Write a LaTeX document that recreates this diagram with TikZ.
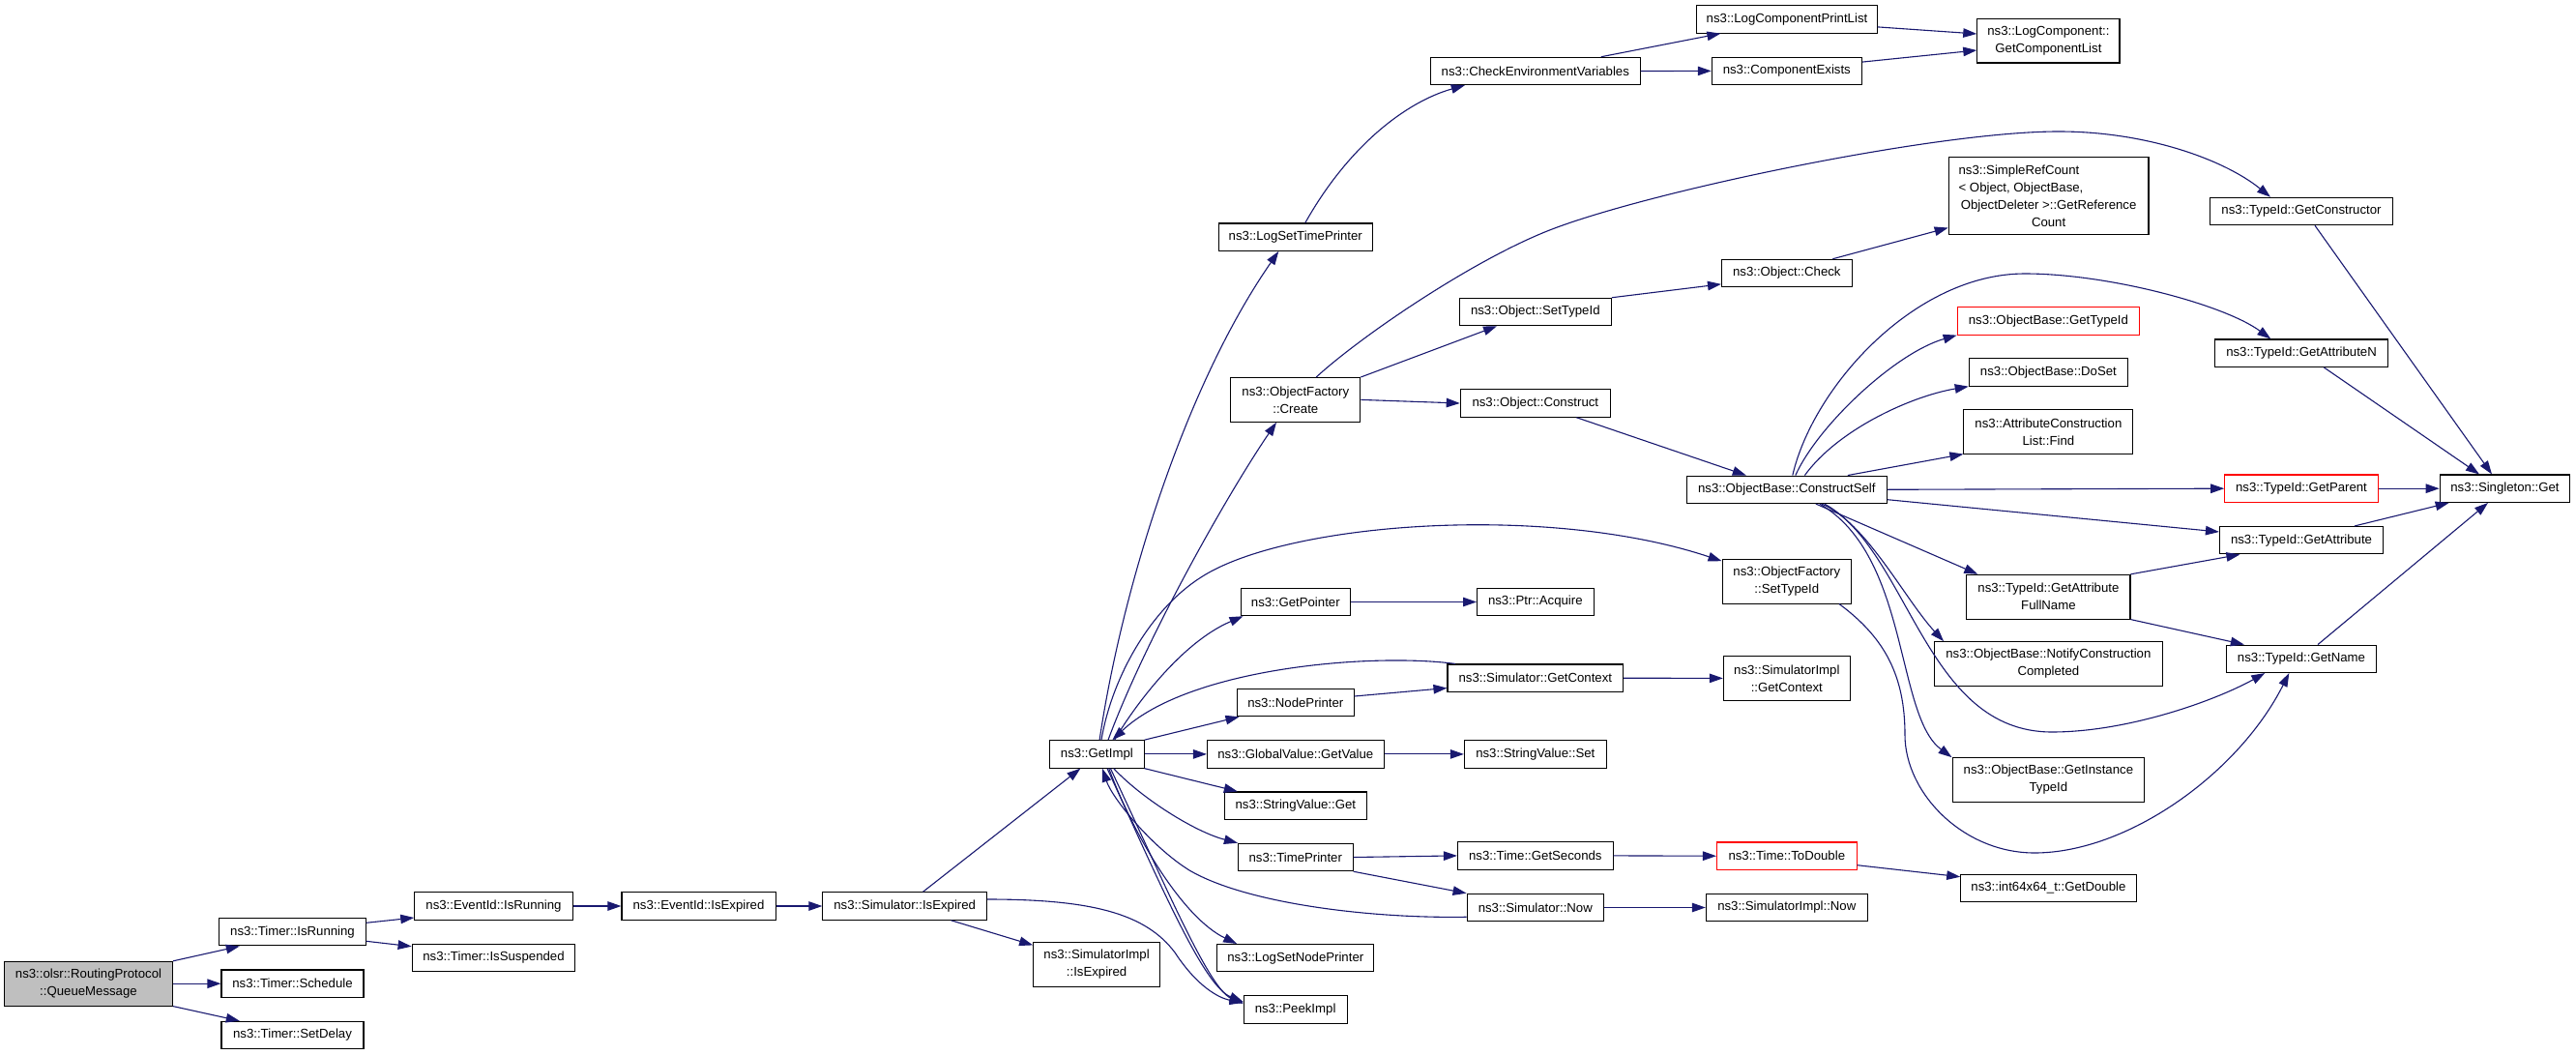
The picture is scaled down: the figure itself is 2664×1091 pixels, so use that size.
\documentclass[tikz,border=0pt]{standalone}
\usepackage{fontspec}
\newfontfamily\dxfont{Liberation Sans}
\usetikzlibrary{arrows.meta,calc}
\definecolor{edgeblue}{RGB}{25,25,112}
\definecolor{rootgray}{RGB}{191,191,191}
\tikzset{
 box/.style={draw=black, line width=1.1pt, fill=white, inner sep=0pt, align=center,
   font={\dxfont\fontsize{13.2pt}{18pt}\selectfont}},
 edge/.style={draw=edgeblue, line width=1.1pt, -{Triangle[length=14pt,width=9.5pt]}},
}
\newcommand\mynode[7][]{\node[box,#1,minimum width=#5pt,minimum height=#6pt] (#2) at (#3,#4) {#7};}
\begin{document}
\begin{tikzpicture}[x=1pt,y=-1pt]
\fill[white] (0,0) rectangle (2664,1091);
\useasboundingbox (0,0) rectangle (2664,1091);
% nodes
\mynode[fill=rootgray]{qm}{91.5}{1017.2}{174}{45.7}{ns3::olsr::RoutingProtocol\\::QueueMessage}
\mynode{tir}{302.5}{963.7}{151.3}{28.4}{ns3::Timer::IsRunning}
\mynode{tsc}{302.5}{1017.2}{147}{28.4}{ns3::Timer::Schedule}
\mynode{tsd}{302.5}{1070.5}{147}{28.4}{ns3::Timer::SetDelay}
\mynode{eir}{510.5}{937}{163.4}{28.4}{ns3::EventId::IsRunning}
\mynode{tis}{510.5}{990.5}{168.7}{28.4}{ns3::Timer::IsSuspended}
\mynode{eie}{722.5}{937}{159.1}{28.4}{ns3::EventId::IsExpired}
\mynode{sie}{935.7}{937}{169.6}{28.4}{ns3::Simulator::IsExpired}
\mynode{gi}{1134.4}{779.9}{97.3}{28.4}{ns3::GetImpl}
\mynode{siie}{1134.1}{997.2}{130.8}{45.7}{ns3::SimulatorImpl\\::IsExpired}
\mynode{pk}{1339.6}{1043.9}{107}{28.4}{ns3::PeekImpl}
\mynode{lsnp}{1339.8}{990.7}{162.2}{28.4}{ns3::LogSetNodePrinter}
\mynode{tp}{1339.8}{886.5}{118.7}{28.4}{ns3::TimePrinter}
\mynode{svg}{1339.8}{833.2}{146.9}{28.4}{ns3::StringValue::Get}
\mynode{gvgv}{1339.8}{779.9}{182.6}{28.4}{ns3::GlobalValue::GetValue}
\mynode{np}{1339.8}{726.5}{120.5}{28.4}{ns3::NodePrinter}
\mynode{gp}{1339.8}{622.5}{113.4}{28.4}{ns3::GetPointer}
\mynode{ofc}{1339.8}{413.4}{133.9}{45.7}{ns3::ObjectFactory\\::Create}
\mynode{lstp}{1339.8}{245.2}{159.3}{28.4}{ns3::LogSetTimePrinter}
\mynode{cev}{1587.8}{73.5}{216.6}{28.4}{ns3::CheckEnvironmentVariables}
\mynode{ost}{1587.8}{322.5}{157.1}{28.4}{ns3::Object::SetTypeId}
\mynode{oc}{1587.8}{417}{155}{28.4}{ns3::Object::Construct}
\mynode{sgc}{1587.8}{701.2}{181.6}{28.4}{ns3::Simulator::GetContext}
\mynode{pa}{1587.8}{622.5}{120.5}{28.4}{ns3::Ptr::Acquire}
\mynode{svs}{1587.8}{779.9}{146.8}{28.4}{ns3::StringValue::Set}
\mynode{tgs}{1587.8}{884.9}{160.7}{28.4}{ns3::Time::GetSeconds}
\mynode{sn}{1587.8}{938.5}{141.4}{28.4}{ns3::Simulator::Now}
\mynode{lcpl}{1848}{19.9}{186.2}{28.4}{ns3::LogComponentPrintList}
\mynode{ce}{1847.8}{73.4}{155}{28.4}{ns3::ComponentExists}
\mynode{och}{1847.8}{282.5}{134.6}{28.4}{ns3::Object::Check}
\mynode{obcs}{1847.8}{506.3}{207.1}{28.4}{ns3::ObjectBase::ConstructSelf}
\mynode{ofst}{1847.8}{601.2}{133.4}{45.7}{ns3::ObjectFactory\\::SetTypeId}
\mynode{sigc}{1847.8}{701.4}{130.9}{45.7}{ns3::SimulatorImpl\\::GetContext}
\mynode[draw=red]{ttd}{1847.8}{885.2}{144.6}{28.4}{ns3::Time::ToDouble}
\mynode{sin}{1847.8}{938.5}{166.9}{28.4}{ns3::SimulatorImpl::Now}
\mynode{lcgc}{2118.4}{42.4}{147.2}{45.3}{ns3::LogComponent::\\GetComponentList}
\mynode{src}{2118.6}{202.7}{206.8}{80}{\makebox[186pt][l]{ns3::SimpleRefCount}\\\makebox[186pt][l]{< Object, ObjectBase,}\\\makebox[186pt][c]{ObjectDeleter >::GetReference}\\\makebox[186pt][c]{Count}}
\mynode[draw=red]{obgt}{2118.4}{331.9}{188.4}{28.4}{ns3::ObjectBase::GetTypeId}
\mynode{obds}{2118.4}{384.9}{164.3}{28.4}{ns3::ObjectBase::DoSet}
\mynode{acl}{2118.4}{446.4}{175}{45.3}{ns3::AttributeConstruction\\List::Find}
\mynode{tgafn}{2118.4}{617.2}{169.1}{45.7}{ns3::TypeId::GetAttribute\\FullName}
\mynode{obncc}{2118.4}{686.4}{235.5}{45.3}{ns3::ObjectBase::NotifyConstruction\\Completed}
\mynode{obgit}{2118.4}{806.4}{198.7}{45.3}{ns3::ObjectBase::GetInstance\\TypeId}
\mynode{gd}{2118.4}{918.5}{181.3}{28.4}{ns3::int64x64\_t::GetDouble}
\mynode{tgc}{2380}{218.5}{188.4}{28.4}{ns3::TypeId::GetConstructor}
\mynode{tgan}{2380}{365.2}{178.7}{28.4}{ns3::TypeId::GetAttributeN}
\mynode[draw=red]{tgp}{2380}{505.2}{158.6}{28.4}{ns3::TypeId::GetParent}
\mynode{tga}{2380}{558.7}{169.1}{28.4}{ns3::TypeId::GetAttribute}
\mynode{tgn}{2380}{681.3}{154.3}{28.4}{ns3::TypeId::GetName}
\mynode{sg}{2590.5}{505.2}{134.6}{28.4}{ns3::Singleton::Get}
% edges
\draw[edge] (qm.north east) -- ($(tir.south)+(-54.7,0)$);
\draw[edge] (qm.east) -- (tsc.west);
\draw[edge] (qm.south east) -- ($(tsd.north)+(-54.7,0)$);
\draw[edge] ($(tir.east)+(0,-9.4)$) -- ($(eir.west)+(0,12)$);
\draw[edge] ($(tir.east)+(0,9.6)$) -- ($(tis.west)+(0,-11.8)$);
\draw[edge] (eir.east) -- (eie.west);
\draw[edge] (eie.east) -- (sie.west);
\draw[edge] ($(sie.north)+(18.8,0)$) -- ($(gi.south)+(-17,0)$);
\draw[edge] ($(sie.south)+(47.8,0)$) -- ($(siie.west)+(0,-19.8)$);
\draw[edge] ($(sie.east)+(0,-7)$) .. controls (1130,930) and (1185,945) .. (1215,985) .. controls (1238,1020) and (1260,1032) .. ($(pk.west)+(0,-7)$);
\draw[edge] ($(gi.north)+(2.7,0)$) .. controls (1160,610) and (1225,400) .. ($(lstp.south)+(-17.5,0)$);
\draw[edge] ($(gi.north)+(11.6,0)$) .. controls (1185,660) and (1270,510) .. ($(ofc.south)+(-19.8,0)$);
\draw[edge] ($(gi.north)+(4.6,0)$) .. controls (1150,700) and (1190,630) .. (1242,597) .. controls (1330,540) and (1600,520) .. ($(ofst.west)+(0,-21)$);
\draw[edge] ($(ofc.north)+(21.4,0)$) .. controls (1407,348) and (1520,271) .. (1600,239) .. controls (1700,199) and (2000,136) .. (2129,136) .. controls (2220,136) and (2300,165) .. ($(tgc.north)+(-32,0)$);
\draw[edge] ($(gi.north)+(18.3,0)$) .. controls (1170,735) and (1220,665) .. ($(gp.south west)+(3,0)$);
\draw[edge] ($(sgc.north west)+(8.5,0)$) .. controls (1420,675) and (1230,690) .. ($(gi.north)+(16,0)$);
\draw[edge] (gi.north east) -- ($(np.south west)+(2.5,0)$);
\draw[edge] ($(np.east)+(0,-6.5)$) -- ($(sgc.west)+(0,10.3)$);
\draw[edge] (gi.east) -- (gvgv.west);
\draw[edge] (gvgv.east) -- (svs.west);
\draw[edge] (gp.east) -- (pa.west);
\draw[edge] (gi.south east) -- ($(svg.north west)+(14,0)$);
\draw[edge] ($(gi.south)+(17.3,0)$) .. controls (1180,825) and (1235,860) .. (tp.north west);
\draw[edge] ($(gi.south)+(12.3,0)$) .. controls (1175,870) and (1225,950) .. ($(lsnp.north west)+(21,0)$);
\draw[edge] ($(sn.south west)+(0,-5)$) .. controls (1420,950) and (1290,935) .. (1230,900) .. controls (1190,875) and (1150,825) .. ($(gi.south)+(5.6,0)$);
\draw[edge] ($(gi.south)+(10.6,0)$) .. controls (1200,915) and (1245,1020) .. ($(pk.west)+(0,-8)$);
\draw[edge] ($(gi.south)+(14,0)$) .. controls (1205,915) and (1250,1022) .. ($(pk.west)+(0,-6)$);
\draw[edge] ($(lstp.north)+(10,0)$) .. controls (1395,150) and (1455,105) .. ($(cev.south)+(-73,0)$);
\draw[edge] ($(cev.north)+(68,0)$) -- ($(lcpl.south west)+(25,0)$);
\draw[edge] (cev.east) -- (ce.west);
\draw[edge] ($(lcpl.east)+(0,8)$) -- ($(lcgc.west)+(0,-7.4)$);
\draw[edge] ($(ce.east)+(0,-9.3)$) -- ($(lcgc.west)+(0,9.6)$);
\draw[edge] (ofc.north east) -- ($(ost.south)+(-39.8,0)$);
\draw[edge] (ofc.east) -- (oc.west);
\draw[edge] (ost.north east) -- ($(och.south west)+(0,-3.4)$);
\draw[edge] ($(och.north)+(47.5,0)$) -- ($(src.south west)+(0,-7.7)$);
\draw[edge] ($(oc.south)+(42.6,0)$) -- ($(obcs.north)+(-42,0)$);
\draw[edge] ($(obcs.north)+(9,0)$) .. controls (1880,440) and (1960,365) .. (obgt.south west);
\draw[edge] ($(obcs.north)+(18.6,0)$) .. controls (1900,445) and (1975,410) .. (obds.south west);
\draw[edge] ($(obcs.north)+(63,0)$) -- (acl.south west);
\draw[edge] ($(obcs.north)+(6,0)$) .. controls (1875,400) and (1980,283) .. (2094,283) .. controls (2180,283) and (2300,315) .. ($(tgan.north)+(-31.7,0)$);
\draw[edge] (obcs.east) -- (tgp.west);
\draw[edge] ($(obcs.east)+(0,10.4)$) -- ($(tga.west)+(0,-8.7)$);
\draw[edge] ($(obcs.south)+(30,0)$) -- ($(tgafn.north west)+(12,0)$);
\draw[edge] ($(obcs.south)+(36,0)$) .. controls (1930,540) and (1970,620) .. ($(obncc.north west)+(10,0)$);
\draw[edge] ($(obcs.south)+(39,0)$) .. controls (1975,570) and (1990,757) .. (2122,757) .. controls (2200,757) and (2290,725) .. ($(tgn.south)+(-37.7,0)$);
\draw[edge] ($(obcs.south)+(34,0)$) .. controls (1975,575) and (1960,740) .. (obgit.north west);
\draw[edge] ($(ofst.south east)+(-13,0)$) .. controls (1950,660) and (1970,700) .. (1970,760) .. controls (1970,820) and (2030,882) .. (2104,882) .. controls (2200,882) and (2315,800) .. ($(tgn.south)+(-12.7,0)$);
\draw[edge] (tgafn.north east) -- ($(tga.south west)+(21.5,0)$);
\draw[edge] (tgafn.south east) -- ($(tgn.north west)+(18.5,0)$);
\draw[edge] ($(tgc.south)+(14,0)$) -- ($(sg.north)+(-13.5,0)$);
\draw[edge] ($(tgan.south)+(23.3,0)$) -- ($(sg.north)+(-26.5,0)$);
\draw[edge] (tgp.east) -- (sg.west);
\draw[edge] ($(tga.north)+(55,0)$) -- ($(sg.south west)+(10,0)$);
\draw[edge] ($(tgn.north)+(17,0)$) -- ($(sg.south)+(-17.5,0)$);
\draw[edge] (sgc.east) -- (sigc.west);
\draw[edge] (tp.east) -- (tgs.west);
\draw[edge] (tp.south east) -- (sn.north west);
\draw[edge] (tgs.east) -- (ttd.west);
\draw[edge] ($(ttd.east)+(0,9.5)$) -- ($(gd.west)+(0,-11.8)$);
\draw[edge] (sn.east) -- (sin.west);
\end{tikzpicture}
\end{document}
